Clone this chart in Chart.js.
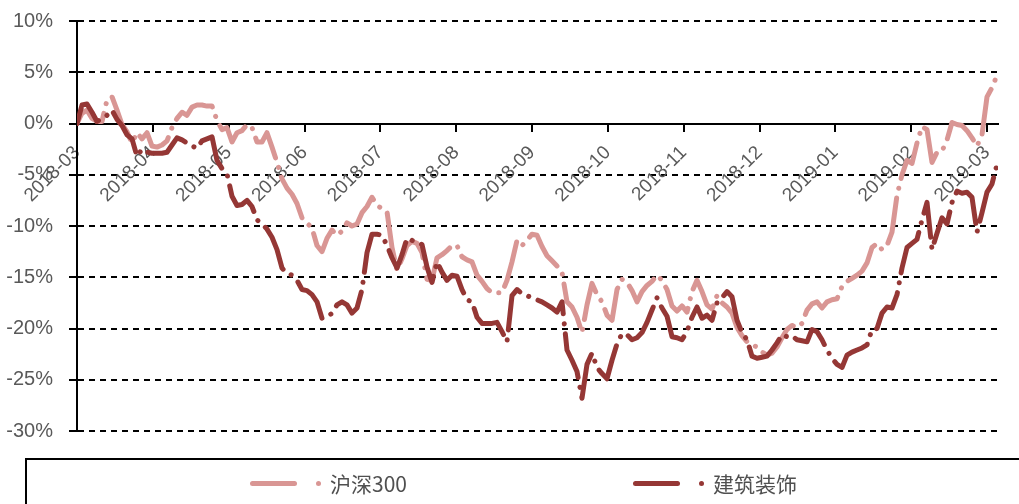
<!DOCTYPE html>
<html>
<head>
<meta charset="utf-8">
<script src="https://cdn.jsdelivr.net/npm/chart.js@4/dist/chart.umd.min.js"></script>
<style>
  html, body { margin: 0; padding: 0; background: #fff; overflow: hidden; }
  #wrap { position: relative; width: 1019px; height: 504px; }
  #legend { position: absolute; left: 25px; top: 458px; width: 1010px; height: 60px; border: 2px solid #000; box-sizing: border-box; }
  .item { position: absolute; top: 8px; height: 30px; display: flex; align-items: center;
          font-family: 'Noto Sans CJK SC', sans-serif; font-size: 21px; color: #505050; }
  .bar { width: 47px; height: 5px; border-radius: 3px; }
  .dot { width: 5px; height: 5px; border-radius: 50%; margin-left: 19px; margin-right: 9px; }
</style>
</head>
<body>
<div id="wrap">
  <canvas id="chart" width="1019" height="504"></canvas>
  <div id="legend">
    <div class="item" style="left:223px"><span class="bar" style="background:#d99694"></span><span class="dot" style="background:#d99694"></span>沪深300</div>
    <div class="item" style="left:606px"><span class="bar" style="background:#953735"></span><span class="dot" style="background:#953735"></span>建筑装饰</div>
  </div>
</div>
<script>
// month ticks on the x axis
const months = ['2018-03', '2018-04', '2018-05', '2018-06', '2018-07', '2018-08', '2018-09',
                '2018-10', '2018-11', '2018-12', '2019-01', '2019-02', '2019-03'];

// cumulative return, % (sampled evenly, 182 samples per 12 months)
const hs300 = [
  0.0, 1.0, 1.3, 0.5, 0.2, 0.2, 2.3, 2.6, 1.3, -0.1,
  -0.8, -1.9, -0.9, -1.5, -0.9, -2.2, -2.3, -2.1, -1.7, -0.4,
  0.5, 1.1, 0.8, 1.6, 1.8, 1.8, 1.7, 1.7, 0.3, -0.6,
  -0.4, -1.8, -0.9, -0.7, -0.1, -0.4, -1.8, -1.8, -0.9, -2.3,
  -3.8, -5.4, -6.3, -6.9, -7.8, -9.2, -9.7, -10.2, -11.9, -12.5,
  -11.2, -10.4, -10.9, -10.5, -9.7, -10.0, -9.8, -8.7, -8.1, -7.2,
  -8.0, -8.3, -8.6, -12.1, -14.3, -13.2, -11.9, -11.5, -11.7, -12.6,
  -15.2, -15.3, -13.1, -12.8, -12.4, -11.9, -11.9, -13.0, -13.3, -13.5,
  -14.8, -15.4, -16.1, -16.5, -16.5, -16.5, -15.3, -13.5, -11.4, -11.9,
  -11.4, -10.8, -10.9, -12.0, -12.9, -13.4, -13.9, -14.5, -17.4, -17.9,
  -18.9, -20.4, -17.7, -15.6, -16.7, -17.4, -18.7, -19.2, -16.2, -15.2,
  -15.5, -16.3, -17.4, -16.4, -15.8, -15.4, -14.8, -15.3, -16.2, -17.8,
  -18.3, -17.8, -18.4, -16.4, -15.3, -16.4, -17.7, -18.1, -16.8, -17.5,
  -17.9, -18.5, -19.9, -20.7, -21.3, -21.6, -21.8, -22.3, -22.6, -22.4,
  -21.8, -20.9, -20.1, -19.7, -19.9, -19.5, -18.2, -17.6, -17.4, -18.0,
  -17.4, -17.2, -17.1, -15.9, -15.4, -15.1, -14.8, -14.4, -13.6, -12.1,
  -11.7, -12.3, -11.9, -10.6, -7.0, -5.0, -3.6, -3.9, -1.9, -0.3,
  -0.6, -3.8, -2.8, -2.7, -1.6, 0.1, -0.1, -0.2, -0.7, -1.4,
  -2.2, -1.1, 2.6, 3.5, 4.7
];

const jzzs = [
  0.0, 1.8, 1.9, 1.1, 0.2, 0.5, 0.8, 1.3, 0.4, -0.2,
  -1.1, -1.5, -3.2, -2.5, -2.8, -2.9, -2.9, -2.9, -2.8, -2.1,
  -1.4, -1.6, -1.9, -2.2, -2.4, -1.7, -1.5, -1.3, -3.6, -4.4,
  -4.9, -7.1, -8.0, -7.9, -7.5, -8.1, -9.4, -9.8, -10.3, -11.1,
  -12.3, -14.1, -14.6, -14.8, -15.3, -16.2, -16.3, -16.7, -17.4, -19.0,
  -18.9, -18.5, -17.7, -17.4, -17.7, -18.5, -18.0, -16.2, -12.6, -10.8,
  -10.8, -10.9, -11.9, -13.1, -14.1, -12.8, -11.2, -11.4, -11.6, -11.8,
  -14.0, -15.5, -13.5, -14.5, -15.3, -14.8, -14.9, -16.2, -17.2, -17.4,
  -18.9, -19.5, -19.5, -19.5, -19.4, -20.3, -21.3, -16.8, -16.2, -16.6,
  -16.8, -17.0, -17.2, -17.4, -17.7, -18.0, -18.4, -17.4, -22.1, -23.1,
  -24.2, -26.8, -23.5, -22.4, -23.8, -24.4, -24.9, -23.1, -21.5, -20.5,
  -20.6, -21.1, -20.9, -20.4, -19.4, -18.2, -17.0, -18.0, -18.8, -20.8,
  -20.9, -21.1, -20.3, -18.9, -17.9, -19.0, -18.7, -19.2, -17.5, -17.0,
  -16.4, -16.9, -19.2, -20.4, -21.1, -22.7, -22.9, -22.8, -22.7, -22.1,
  -21.4, -20.6, -20.8, -20.7, -21.1, -21.2, -21.3, -20.1, -20.3, -21.1,
  -22.1, -22.9, -23.5, -23.8, -22.6, -22.3, -22.1, -21.9, -21.6, -20.1,
  -20.0, -18.5, -17.9, -18.0, -16.7, -14.1, -12.1, -11.7, -11.3, -9.4,
  -7.7, -12.3, -10.7, -9.2, -9.8, -7.7, -6.6, -6.8, -6.7, -7.2,
  -10.6, -8.7, -6.7, -5.9, -4.0
];

const step = 12 / 182; // months per sample
const toPoints = arr => arr.map((v, i) => ({ x: i * step, y: v }));

const fontFamily = "'Liberation Sans', Arial, sans-serif";
const dashStyle = [46, 10, 0.1, 10];

new Chart(document.getElementById('chart'), {
    type: 'line',
    data: {
        datasets: [{
            label: '沪深300',
            data: toPoints(hs300),
            borderColor: '#d99694',
            borderWidth: 5,
            borderDash: dashStyle,
            borderCapStyle: 'round',
            borderJoinStyle: 'round',
            pointRadius: 0,
            fill: false,
            order: 1
        }, {
            label: '建筑装饰',
            data: toPoints(jzzs),
            borderColor: '#953735',
            borderWidth: 5,
            borderDash: dashStyle,
            borderCapStyle: 'round',
            borderJoinStyle: 'round',
            pointRadius: 0,
            fill: false,
            order: 0
        }]
    },
    options: {
        responsive: false,
        animation: false,
        devicePixelRatio: 1,
        layout: { padding: { top: 21, bottom: 73, left: 0, right: 21 } },
        plugins: {
            legend: { display: false },
            tooltip: { enabled: false }
        },
        scales: {
            x: {
                type: 'linear',
                position: { y: 0 },
                min: 0,
                max: 12.145,
                grid: { drawOnChartArea: false, drawTicks: true, tickLength: 7, color: '#000', lineWidth: 2 },
                border: { color: '#000', width: 2 },
                ticks: {
                    stepSize: 1,
                    autoSkip: false,
                    includeBounds: false,
                    minRotation: 45,
                    maxRotation: 45,
                    padding: 11,
                    color: '#595959',
                    font: { family: fontFamily, size: 19 },
                    callback: v => months[v] ?? ''
                }
            },
            y: {
                min: -30,
                max: 10,
                grid: { color: '#000', lineWidth: 2, tickLength: 8 },
                border: { color: '#000', width: 2, dash: [6, 5] },
                ticks: {
                    stepSize: 5,
                    padding: 16,
                    color: '#595959',
                    font: { family: fontFamily, size: 20 },
                    callback: v => v + '%'
                },
                afterFit: scale => {
                    scale.width = 77;
                    scale.paddingTop = 0;
                    scale.paddingBottom = 0;
                }
            }
        }
    }
});
</script>
</body>
</html>
